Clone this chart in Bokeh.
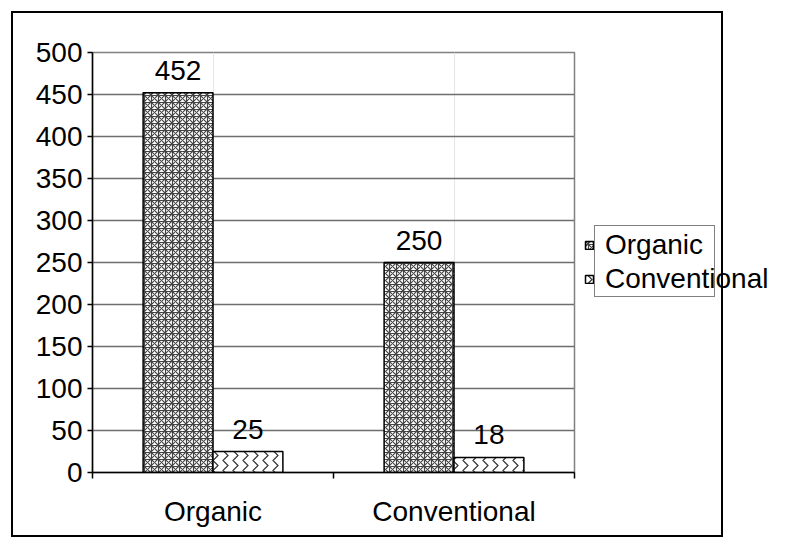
from bokeh.plotting import figure
from bokeh.models import (ColumnDataSource, FactorRange, Range1d, LinearAxis,
                          FixedTicker, Legend, LegendItem, LabelSet, Grid, InlineStyleSheet)
from bokeh.core.properties import value
from bokeh.transform import dodge
from bokeh.embed import file_html
from bokeh.resources import INLINE

categories = ["Organic", "Conventional"]
series_names = ["Organic", "Conventional"]
organic_values = [452, 250]
conventional_values = [25, 18]
y_ticks = [0, 50, 100, 150, 200, 250, 300, 350, 400, 450, 500]

FONT = "Liberation Sans"
FS = "28px"

src = ColumnDataSource(data=dict(
    cat=categories,
    s1=organic_values,
    s2=conventional_values,
    s1_txt=[str(v) for v in organic_values],
    s2_txt=[str(v) for v in conventional_values],
))

p = figure(frame_width=482, frame_height=420,
           x_range=FactorRange(*categories, range_padding=0),
           y_range=Range1d(0, 500),
           output_backend="svg", toolbar_location=None,
           x_axis_location=None, y_axis_location=None,
           min_border_left=92, min_border_right=229,
           min_border_top=52, min_border_bottom=72)
p.background_fill_color = "white"
p.border_fill_color = "white"
p.outline_line_color = "#808080"
p.outline_line_width = 1.5

# grid
grid = Grid(dimension=1, ticker=FixedTicker(ticks=y_ticks),
            grid_line_color="#6e6e6e", grid_line_width=1.5)
p.add_layout(grid, "center")

# y axis
yaxis = LinearAxis(ticker=FixedTicker(ticks=y_ticks, minor_ticks=[]))
yaxis.axis_line_color = "black"
yaxis.axis_line_width = 1.5
yaxis.major_tick_line_color = "black"
yaxis.major_tick_line_width = 1.5
yaxis.major_tick_out = 5
yaxis.major_tick_in = 0
yaxis.minor_tick_line_color = None
yaxis.major_label_standoff = 5
yaxis.major_label_text_font = FONT
yaxis.major_label_text_font_size = FS
yaxis.major_label_text_color = "black"
p.add_layout(yaxis, "left")

# x axis: category names at category centres, tick marks at category edges
# (synthetic coordinates of the factor range: category i spans i .. i+1)
centres = [i + 0.5 for i in range(len(categories))]
edges = list(range(len(categories) + 1))
xaxis = LinearAxis(ticker=FixedTicker(ticks=centres, minor_ticks=edges))
xaxis.major_label_overrides = {c: name for c, name in zip(centres, categories)}
xaxis.axis_line_color = "black"
xaxis.axis_line_width = 1.5
xaxis.major_tick_line_color = None
xaxis.major_tick_out = 0
xaxis.major_tick_in = 0
xaxis.minor_tick_line_color = "black"
xaxis.minor_tick_line_width = 1.5
xaxis.minor_tick_out = 6
xaxis.minor_tick_in = 0
xaxis.major_label_standoff = 17
xaxis.major_label_text_font = FONT
xaxis.major_label_text_font_size = FS
xaxis.major_label_text_color = "black"
p.add_layout(xaxis, "below")

# bars
r1 = p.vbar(x=dodge("cat", -0.145, range=p.x_range), top="s1", width=0.29, source=src,
            fill_color="white", line_color="black", line_width=1.5,
            hatch_pattern="criss_cross", hatch_color="#444444", hatch_scale=7, hatch_weight=1.2)
r2 = p.vbar(x=dodge("cat", 0.145, range=p.x_range), top="s2", width=0.29, source=src,
            fill_color="white", line_color="black", line_width=1.5,
            hatch_pattern="vertical_wave", hatch_color="#333333", hatch_scale=10, hatch_weight=1.2)

# data labels
for col, txt, off in (("s1", "s1_txt", -0.145), ("s2", "s2_txt", 0.145)):
    lbl = LabelSet(x=dodge("cat", off, range=p.x_range), y=col, text=txt, source=src,
                   y_offset=13, text_align="center", text_baseline="bottom",
                   text_font=value(FONT), text_font_size=value(FS), text_color="black")
    p.add_layout(lbl)

# legend
legend = Legend(items=[LegendItem(label=series_names[0], renderers=[r1]),
                       LegendItem(label=series_names[1], renderers=[r2])],
                location="left", orientation="vertical")
legend.border_line_color = None
legend.background_fill_alpha = 0
legend.label_text_font = FONT
legend.label_text_font_size = FS
legend.label_text_color = "black"
legend.glyph_width = 10
legend.glyph_height = 10
legend.label_standoff = 11
legend.spacing = 2
legend.padding = 30
legend.margin = 10
p.add_layout(legend, "right")

# chart-area border and the (too narrow) legend box, as in the original;
# the page is clipped to the 803 px window
p.styles = {"position": "relative"}
p.stylesheets = [InlineStyleSheet(css="""
:host { max-width: 803px !important; overflow: hidden !important; }
:host::before {
  content: ""; position: absolute; z-index: 20; pointer-events: none;
  left: 594px; top: 225px; width: 121px; height: 72px;
  border: 1.5px solid #808080; box-sizing: border-box;
}
:host::after {
  content: ""; position: absolute; z-index: 21; pointer-events: none;
  left: 11px; top: 11px; width: 712px; height: 526px;
  border: 2px solid #000; box-sizing: border-box;
}
""")]

open("out.html", "w").write(file_html(p, INLINE))
